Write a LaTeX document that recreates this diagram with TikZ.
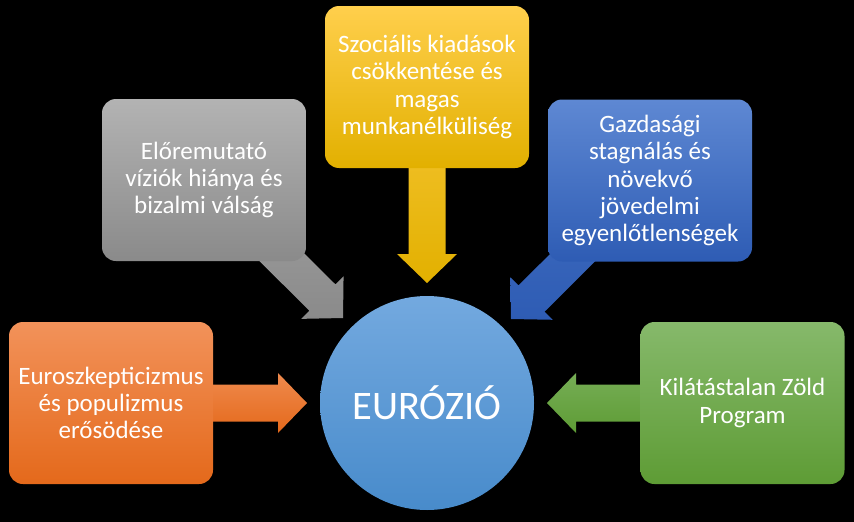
\documentclass[tikz,border=0pt]{standalone}
\usepackage{fontspec}
\setmainfont{Carlito}
\usetikzlibrary{calc}
\definecolor{orT}{HTML}{F2925A}
\definecolor{orB}{HTML}{E4691B}
\definecolor{grT}{HTML}{B3B3B3}
\definecolor{grB}{HTML}{8A8A8A}
\definecolor{yeT}{HTML}{FFCF4C}
\definecolor{yeB}{HTML}{E2B000}
\definecolor{blT}{HTML}{5E88D3}
\definecolor{blB}{HTML}{2E5CB4}
\definecolor{gnT}{HTML}{86B96B}
\definecolor{gnB}{HTML}{5E9C35}
\definecolor{ciT}{HTML}{73A9DF}
\definecolor{ciB}{HTML}{488BCB}
\newcommand\blockarrow[4]{%
  \coordinate (hb) at ($(#2)!29pt!(#1)$);
  \path[top color=#3,bottom color=#4]
    ($(#1)!18.5pt!90:(#2)$) -- ($(hb)!18.5pt!90:(#2)$) -- ($(hb)!30pt!90:(#2)$)
    -- (#2) -- ($(hb)!30pt!-90:(#2)$) -- ($(hb)!18.5pt!-90:(#2)$)
    -- ($(#1)!18.5pt!-90:(#2)$) -- cycle;}
\begin{document}
\begin{tikzpicture}[x=1pt,y=-1pt,
  box/.style={rounded corners=14pt, minimum width=204pt, minimum height=162pt,
    text=white, align=center, inner sep=0pt,
    font=\fontsize{25}{27.3}\selectfont},
  hub/.style={circle, minimum size=214pt, inner sep=0pt, text=white,
    top color=ciT, bottom color=ciB, font=\fontsize{40.5}{45}\selectfont}]
\fill[black] (0,0) rectangle (854,522);
\useasboundingbox (0,0) rectangle (854,522);
\coordinate (oc) at (111,403);
\coordinate (gc) at (204,180);
\coordinate (yc) at (427,87);
\coordinate (bc) at (650,180.5);
\coordinate (nc) at (742.5,403);
\coordinate (tO) at (307,403);
\coordinate (tG) at (343,318);
\coordinate (tY) at (427,283);
\coordinate (tB) at (511,319);
\coordinate (tN) at (547,403);
\blockarrow{oc}{tO}{orT!80!orB}{orB}
\blockarrow{gc}{tG}{grT!60!grB}{grB}
\blockarrow{yc}{tY}{yeT!70!yeB}{yeB}
\blockarrow{bc}{tB}{blT!40!blB}{blB}
\blockarrow{nc}{tN}{gnT!60!gnB}{gnB}
\node[box, top color=orT, bottom color=orB] (or) at (oc) {Euroszkepticizmus\\és populizmus\\erősödése};
\node[box, top color=grT, bottom color=grB] (gr) at (gc) {Előremutató\\víziók hiánya és\\bizalmi válság};
\node[box, top color=yeT, bottom color=yeB] (ye) at (yc) {Szociális kiadások\\csökkentése és\\magas\\munkanélküliség};
\node[box, top color=blT, bottom color=blB] (bl) at (bc) {Gazdasági\\stagnálás és\\növekvő\\jövedelmi\\egyenlőtlenségek};
\node[box, top color=gnT, bottom color=gnB] (gn) at (nc) {Kilátástalan Zöld\\Program};
\node[hub] (hub) at (427,403) {EURÓZIÓ};
\end{tikzpicture}
\end{document}
